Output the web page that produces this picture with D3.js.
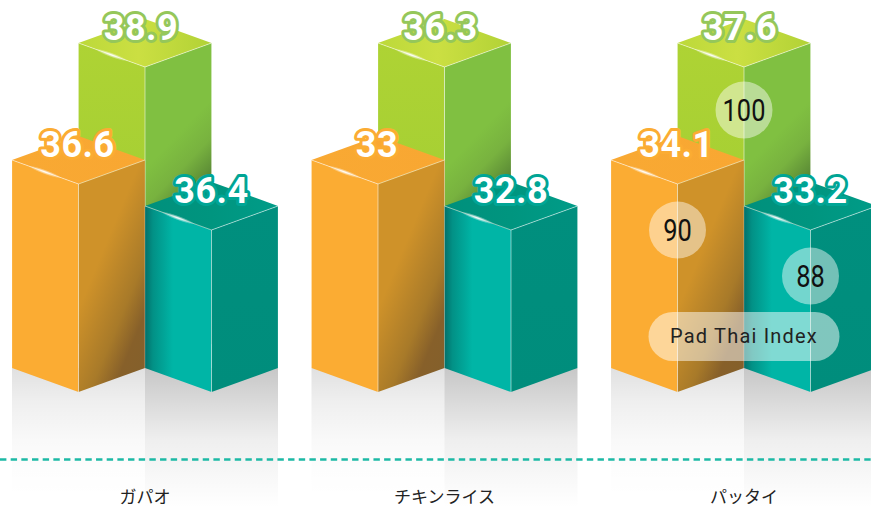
<!DOCTYPE html>
<html>
<head>
<meta charset="utf-8">
<script src="https://cdn.jsdelivr.net/npm/d3@7"></script>
<style>
  body { margin: 0; background: #fff; }
  svg { display: block; }
  .value { font-family: Roboto, sans-serif; font-weight: 700; font-size: 36px; fill: #fff; paint-order: stroke; stroke-linejoin: round; stroke-width: 6px; letter-spacing: 0.5px; }
  .index { font-family: Roboto, sans-serif; font-size: 31px; fill: #111; }
  .pill-label { font-family: Roboto, sans-serif; font-size: 20px; fill: #222; letter-spacing: 1.2px; }
  .category { font-family: "Noto Sans CJK JP", sans-serif; font-size: 17px; fill: #222; }
</style>
</head>
<body>
<svg id="chart" width="871" height="508"></svg>
<script>
const categories = ['ガパオ', 'チキンライス', 'パッタイ'];
const seriesKeys = ['green', 'orange', 'teal'];
const greenValues = [38.9, 36.3, 37.6];
const orangeValues = [36.6, 33, 34.1];
const tealValues = [36.4, 32.8, 33.2];
const padThaiIndex = [100, 90, 88];
const pillLabel = 'Pad Thai Index';

const valuesBySeries = {green: greenValues, orange: orangeValues, teal: tealValues};

const svg = d3.select('#chart');
const defs = svg.append('defs');

// the columns are not drawn to scale in the original, each series keeps one height,
// so the height comes from the index of the series and not from the printed value
const y = d3.scaleLinear().domain([88, 90, 100]).range([206, 160, 43]);
const x = d3.scalePoint().domain(categories).range([145, 744]);
const seriesX = d3.scalePoint().domain(['orange', 'green', 'teal']).range([-66.5, 66.5]);

const halfW = 66.5;
const skew = 24;
const baseY = {green: 344, orange: 368, teal: 368};
const labelDx = {green: -4, orange: -1, teal: 0};
const palette = {
  green: {stroke: '#95c75a'},
  orange: {stroke: '#fbac33'},
  teal: {stroke: '#00a595'}
};

function gradient(id, coords, stops) {
  let g = defs.append('linearGradient').attr('id', id)
    .attr('x1', coords[0]).attr('y1', coords[1]).attr('x2', coords[2]).attr('y2', coords[3]);
  stops.forEach(s => g.append('stop').attr('offset', s[0]).attr('stop-color', s[1]).attr('stop-opacity', s[2] === undefined ? 1 : s[2]));
}

gradient('top-green', [0, 0, 1, 0], [[0, '#bcd93a'], [0.45, '#cbdf42'], [1, '#b2d236']]);
gradient('top-orange', [0, 0, 1, 0], [[0, '#f9a933'], [1, '#f8a732']]);
gradient('top-teal', [0, 0, 1, 0], [[0, '#00907c'], [0.5, '#00957f'], [1, '#009c88']]);
gradient('left-green', [0, 0, 0, 1], [[0, '#aed334'], [1, '#9ccb33']]);
gradient('left-orange', [0, 0, 0, 1], [[0, '#fbac33'], [1, '#fbac33']]);
gradient('left-teal', [0, 0, 1, 0], [[0, '#03706a'], [0.12, '#029186'], [0.42, '#00b5a6'], [1, '#00b5a6']]);
gradient('right-green', [0.5, 0.28, 0.56, 0.56], [[0, '#80c041'], [0.4, '#78b23f'], [1, '#4a7430']]);
gradient('right-orange', [0.5, 0.3, 0.94, 0.94], [[0, '#cf9229'], [0.5, '#a87a29'], [0.75, '#87602a'], [1, '#84602b']]);
gradient('right-teal', [0, 0, 0, 1], [[0, '#008f7e'], [1, '#008d7c']]);
gradient('shade-orange', [0, 0, 0, 1], [[0, '#000', 0.12], [0.25, '#000', 0.065], [0.55, '#000', 0.025], [0.78, '#000', 0.008], [1, '#000', 0]]);
gradient('shade-teal', [0, 0, 0, 1], [[0, '#000', 0.22], [0.23, '#000', 0.15], [0.51, '#000', 0.065], [0.8, '#000', 0.025], [1, '#000', 0]]);

let glow = defs.append('radialGradient').attr('id', 'glow');
glow.append('stop').attr('offset', 0).attr('stop-color', '#fff').attr('stop-opacity', 0.95);
glow.append('stop').attr('offset', 1).attr('stop-color', '#fff').attr('stop-opacity', 0);

// one record per drawn column
const bars = [];
categories.forEach((c, i) => {
  seriesKeys.forEach((key, s) => {
    let cx = x(c) + seriesX(key);
    bars.push({
      category: c, key: key, value: valuesBySeries[key][i], index: padThaiIndex[s],
      cx: cx, left: cx - halfW, right: cx + halfW, top: y(padThaiIndex[s]), base: baseY[key],
      showIndex: c === 'パッタイ'
    });
  });
});

const line = d3.line();

// floor shading under the two front columns
svg.append('g').selectAll('rect')
  .data(bars.filter(d => d.key !== 'green'))
  .join('rect')
    .attr('x', d => d.left)
    .attr('y', d => d.base)
    .attr('width', halfW * 2)
    .attr('height', d => d.key === 'orange' ? 130 : 140)
    .attr('fill', d => `url(#shade-${d.key})`);

// dashed floor line
svg.append('line')
  .attr('x1', 0).attr('x2', 871).attr('y1', 459.5).attr('y2', 459.5)
  .attr('stroke', '#1db9a5').attr('stroke-width', 2.6)
  .attr('stroke-dasharray', '6.4 4.27');

const bar = svg.append('g').selectAll('g')
  .data(bars)
  .join('g');

bar.append('path')
  .attr('fill', d => `url(#left-${d.key})`)
  .attr('d', d => line([[d.left, d.top], [d.cx, d.top + skew], [d.cx, d.base + skew], [d.left, d.base]]) + 'Z');
bar.append('path')
  .attr('fill', d => `url(#right-${d.key})`)
  .attr('d', d => line([[d.cx, d.top + skew], [d.right, d.top], [d.right, d.base], [d.cx, d.base + skew]]) + 'Z');
bar.append('path')
  .attr('fill', d => `url(#top-${d.key})`)
  .attr('d', d => line([[d.left, d.top], [d.cx, d.top - skew], [d.right, d.top], [d.cx, d.top + skew]]) + 'Z');

// pale edges
bar.append('path')
  .attr('fill', 'none').attr('stroke', '#fff').attr('stroke-opacity', 0.5).attr('stroke-width', 1)
  .attr('d', d => line([[d.left, d.top], [d.cx, d.top + skew], [d.right, d.top]]) + 'M' + d.cx + ',' + (d.top + skew) + 'V' + (d.base + skew));
bar.append('path')
  .attr('fill', 'none').attr('stroke', '#fff').attr('stroke-opacity', 0.18).attr('stroke-width', 1)
  .attr('d', d => `M${d.right},${d.top}V${d.base}M${d.left},${d.top}V${d.base}`);

bar.append('ellipse')
  .attr('transform', d => `translate(${d.left + 33},${d.top + 12}) rotate(20)`)
  .attr('rx', 18).attr('ry', 2.4)
  .attr('fill', 'url(#glow)');

// index badges of the last group
const badges = bars.filter(d => d.showIndex);
const badgeY = {green: 110, orange: 230, teal: 276};

svg.append('g').selectAll('circle')
  .data(badges)
  .join('circle')
    .attr('cx', d => d.cx)
    .attr('cy', d => badgeY[d.key])
    .attr('r', 28.5)
    .attr('fill', '#fff').attr('fill-opacity', 0.45);

const pillCx = x(categories[2]);
svg.append('rect')
  .attr('x', pillCx - 95.5).attr('y', 312).attr('width', 191).attr('height', 49).attr('rx', 24.5)
  .attr('fill', '#fff').attr('fill-opacity', 0.5);

// the original digits are narrow, so squeeze them sideways
svg.append('g').selectAll('text')
  .data(badges)
  .join('text')
    .attr('class', 'index')
    .attr('transform', d => `translate(${d.cx},${badgeY[d.key] + 11}) scale(0.82,1)`)
    .attr('text-anchor', 'middle')
    .text(d => d.index);

svg.append('text')
  .attr('class', 'pill-label')
  .attr('x', pillCx).attr('y', 343)
  .attr('text-anchor', 'middle')
  .text(pillLabel);

// printed values, back column first so the front ones stay on top
svg.append('g').selectAll('text')
  .data(bars)
  .join('text')
    .attr('class', 'value')
    .attr('x', d => d.cx + labelDx[d.key])
    .attr('y', d => d.top - 3.5)
    .attr('text-anchor', 'middle')
    .attr('stroke', d => palette[d.key].stroke)
    .text(d => d.value);

svg.append('g').selectAll('text')
  .data(categories)
  .join('text')
    .attr('class', 'category')
    .attr('x', d => x(d))
    .attr('y', 503)
    .attr('text-anchor', 'middle')
    .text(d => d);
</script>
</body>
</html>
